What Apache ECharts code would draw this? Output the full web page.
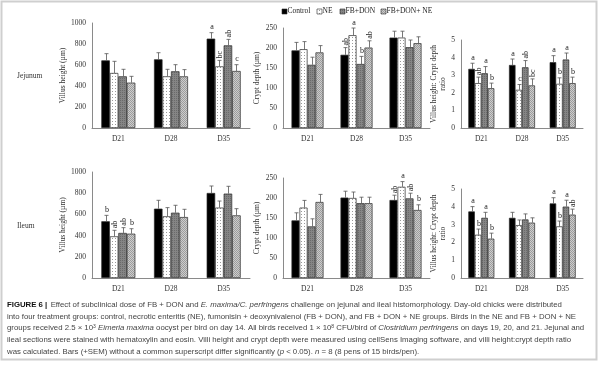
<!DOCTYPE html>
<html><head><meta charset="utf-8">
<script src="https://cdn.jsdelivr.net/npm/echarts@6/dist/echarts.min.js"></script>
<style>html,body{margin:0;padding:0;background:#fff}#c{width:600px;height:365px}</style>
</head><body><div id="c"></div>
<script>
// ---------- data ----------
const categories = ['D21', 'D28', 'D35'];
const groups = ['Control', 'NE', 'FB+DON', 'FB+DON+ NE'];

// each row: one treatment group, values for D21, D28, D35
const jejVH_mean = [[644, 654, 851], [524, 492, 587], [492, 540, 787], [432, 492, 543]];
const jejVH_sem  = [[64, 63, 57], [111, 67, 57], [67, 63, 57], [60, 64, 60]];
const jejVH_lab  = [['', '', 'a'], ['', '', 'bc'], ['', '', 'ab'], ['', '', 'c']];

const jejCD_mean = [[194, 183, 226], [197, 232, 226], [158, 160, 202], [189, 201, 212]];
const jejCD_sem  = [[20, 18, 16], [19, 18, 16], [19, 19, 18], [17, 17, 16]];
const jejCD_lab  = [['', 'ab', ''], ['', 'a', ''], ['', 'b', ''], ['', 'ab', '']];

const jejR_mean = [[3.36, 3.58, 3.74], [2.55, 2.17, 2.51], [3.11, 3.45, 3.89], [2.26, 2.42, 2.55]];
const jejR_sem  = [[0.32, 0.34, 0.37], [0.34, 0.30, 0.34], [0.38, 0.38, 0.37], [0.29, 0.37, 0.34]];
const jejR_lab  = [['a', 'a', 'a'], ['ab', 'c', 'b'], ['a', 'ab', 'a'], ['b', 'bc', 'b']];

const ileVH_mean = [[535, 654, 802], [393, 582, 664], [425, 616, 796], [418, 575, 591]];
const ileVH_sem  = [[56, 79, 66], [57, 82, 62], [50, 70, 69], [47, 73, 63]];
const ileVH_lab  = [['b', '', ''], ['ab', '', ''], ['ab', '', ''], ['b', '', '']];

const ileCD_mean = [[144, 201, 195], [176, 200, 228], [129, 187, 199], [190, 187, 170]];
const ileCD_sem  = [[19, 16, 12], [18, 15, 13], [19, 15, 13], [19, 15, 13]];
const ileCD_lab  = [['', '', 'ab'], ['', '', 'a'], ['', '', 'ab'], ['', '', 'b']];

const ileR_mean = [[3.74, 3.38, 4.19], [2.43, 2.97, 2.90], [3.38, 3.29, 4.01], [2.21, 3.11, 3.56]];
const ileR_sem  = [[0.27, 0.31, 0.32], [0.32, 0.29, 0.30], [0.31, 0.31, 0.36], [0.31, 0.27, 0.31]];
const ileR_lab  = [['a', '', 'a'], ['b', '', 'b'], ['a', '', 'a'], ['b', '', 'ab']];

const vhTicks = [0, 1000, 200];
const cdTicks = [0, 250, 50];
const rTicks = [0, 5, 1];

// ---------- styles ----------
const SERIF = '"Liberation Serif", "DejaVu Serif", serif';
const SANS = '"Liberation Sans", "DejaVu Sans", sans-serif';

function pattern(size, bg, fg, pts) {
  const c = document.createElement('canvas');
  c.width = c.height = size;
  const x = c.getContext('2d');
  x.fillStyle = bg; x.fillRect(0, 0, size, size);
  x.fillStyle = fg;
  pts.forEach(p => x.fillRect(p[0], p[1], 1, 1));
  return { image: c, repeat: 'repeat' };
}
const fills = [
  '#000000',
  pattern(3, '#ffffff', '#9a9a9a', [[1, 1]]),
  pattern(2, '#858585', '#6a6a6a', [[0, 0]]),
  pattern(2, '#cdcdcd', '#9c9c9c', [[0, 0], [1, 1]])
];

const panels = [
  { mean: jejVH_mean, sem: jejVH_sem, lab: jejVH_lab, t: vhTicks, name: 'Villus height (µm)', gap: 22,
    grid: { left: 92, top: 23, width: 158, height: 105 }, bw: 8.5 },
  { mean: jejCD_mean, sem: jejCD_sem, lab: jejCD_lab, t: cdTicks, name: 'Crypt depth (µm)', gap: 18,
    grid: { left: 283, top: 28, width: 147, height: 100 }, bw: 8 },
  { mean: jejR_mean, sem: jejR_sem, lab: jejR_lab, t: rTicks, name: 'Villus height: Crypt depth\nratio', gap: 11,
    grid: { left: 461, top: 40, width: 122, height: 88 }, bw: 6.5 },
  { mean: ileVH_mean, sem: ileVH_sem, lab: ileVH_lab, t: vhTicks, name: 'Villus height (µm)', gap: 22,
    grid: { left: 92, top: 172, width: 158, height: 106 }, bw: 8.5 },
  { mean: ileCD_mean, sem: ileCD_sem, lab: ileCD_lab, t: cdTicks, name: 'Crypt depth (µm)', gap: 18,
    grid: { left: 283, top: 178, width: 147, height: 100 }, bw: 8 },
  { mean: ileR_mean, sem: ileR_sem, lab: ileR_lab, t: rTicks, name: 'Villus height: Crypt depth\nratio', gap: 11,
    grid: { left: 461, top: 189, width: 122, height: 89 }, bw: 6.5 }
];

const grids = [], xAxes = [], yAxes = [], series = [];
panels.forEach((p, pi) => {
  grids.push(Object.assign({ containLabel: false }, p.grid));
  xAxes.push({
    type: 'category', gridIndex: pi, data: categories,
    axisTick: { show: false },
    axisLine: { lineStyle: { color: '#8a8a8a', width: 1 } },
    axisLabel: { fontFamily: SERIF, fontSize: 7.5, color: '#333', margin: 7 }
  });
  yAxes.push({
    type: 'value', gridIndex: pi, min: p.t[0], max: p.t[1], interval: p.t[2],
    axisLine: { show: true, lineStyle: { color: '#8a8a8a', width: 1 } },
    axisTick: { show: false }, splitLine: { show: false },
    axisLabel: { fontFamily: SERIF, fontSize: 7.5, color: '#333', margin: 6, formatter: v => String(v) },
    name: p.name, nameLocation: 'middle', nameGap: p.gap, nameRotate: 90,
    nameTextStyle: { fontFamily: SERIF, fontSize: 7.5, color: '#333', lineHeight: 9 }
  });
  groups.forEach((g, gi) => {
    series.push({
      type: 'bar', name: g, xAxisIndex: pi, yAxisIndex: pi, data: p.mean[gi],
      barWidth: p.bw, barGap: '0%', silent: true,
      itemStyle: { color: fills[gi], borderColor: '#2a2a2a', borderWidth: 0.7 }
    });
  });
  const ed = [];
  groups.forEach((g, gi) => categories.forEach((c, di) => ed.push([di, p.mean[gi][di], p.sem[gi][di], gi])));
  series.push({
    type: 'custom', xAxisIndex: pi, yAxisIndex: pi, data: ed, silent: true, z: 5,
    encode: { x: 0, y: 1 },
    renderItem: (params, api) => {
      const di = api.value(0), m = api.value(1), s = api.value(2), gi = api.value(3);
      const b = api.coord([di, m]);
      const t = api.coord([di, m + s]);
      const x = Math.round(b[0] + (gi - 1.5) * p.bw) + 0.5;
      const ch = [
        { type: 'line', shape: { x1: x, y1: b[1], x2: x, y2: t[1] }, style: { stroke: '#555', lineWidth: 0.8 } },
        { type: 'line', shape: { x1: x - 2, y1: t[1], x2: x + 2, y2: t[1] }, style: { stroke: '#555', lineWidth: 0.8 } }
      ];
      const L = p.lab[gi][di];
      if (L) {
        if (L.length > 1) {
          ch.push({ type: 'text', x: x + 0.5, y: t[1] - 2, rotation: Math.PI / 2,
            style: { text: L, font: '8px ' + SERIF, fill: '#222', align: 'left', verticalAlign: 'middle' } });
        } else {
          ch.push({ type: 'text', x: x + 0.5, y: t[1] - 1.5,
            style: { text: L, font: '8px ' + SERIF, fill: '#222', align: 'center', verticalAlign: 'bottom' } });
        }
      }
      return { type: 'group', children: ch };
    }
  });
});

// legend (drawn with graphic so spacing matches the figure)
const legendX = [282, 317, 340, 381];
const graphics = [];
groups.forEach((g, gi) => {
  graphics.push({ type: 'rect', shape: { x: legendX[gi], y: 9, width: 5, height: 5 },
    style: { fill: fills[gi], stroke: '#2a2a2a', lineWidth: 0.6 } });
  graphics.push({ type: 'text', x: legendX[gi] + 5.5, y: 11.5,
    style: { text: g, font: '7.5px ' + SERIF, fill: '#222', verticalAlign: 'middle' } });
});
graphics.push({ type: 'text', x: 17, y: 76, style: { text: 'Jejunum', font: '7.5px ' + SERIF, fill: '#333', verticalAlign: 'middle' } });
graphics.push({ type: 'text', x: 17, y: 226, style: { text: 'Ileum', font: '7.5px ' + SERIF, fill: '#333', verticalAlign: 'middle' } });

// caption
const captionLines = [
  '{b|FIGURE 6 |} {n|Effect of subclinical dose of FB + DON and }{i|E. maxima/C. perfringens}{n| challenge on jejunal and ileal histomorphology. Day-old chicks were distributed}',
  '{n|into four treatment groups: control, necrotic enteritis (NE), fumonisin + deoxynivalenol (FB + DON), and FB + DON + NE groups. Birds in the NE and FB + DON + NE}',
  '{n|groups received 2.5 × 10}{s|3}{n| }{i|Eimeria maxima}{n| oocyst per bird on day 14. All birds received 1 × 10}{s|8}{n| CFU/bird of }{i|Clostridium perfringens}{n| on days 19, 20, and 21. Jejunal and}',
  '{n|ileal sections were stained with hematoxylin and eosin. Villi height and crypt depth were measured using cellSens Imaging software, and villi height:crypt depth ratio}',
  '{n|was calculated. Bars (+SEM) without a common superscript differ significantly (}{i|p}{n| < 0.05). }{i|n}{n| = 8 (8 pens of 15 birds/pen).}'
];
const capFont = 7.8;
captionLines.forEach((ln, i) => {
  graphics.push({
    type: 'text', x: 7, y: 305 + i * 11.6,
    style: {
      text: ln, verticalAlign: 'middle', fill: '#3a3a3a',
      rich: {
        b: { fontFamily: SANS, fontSize: capFont, fontWeight: 'bold', fill: '#111' },
        n: { fontFamily: SANS, fontSize: capFont, fill: '#444' },
        i: { fontFamily: SANS, fontSize: capFont, fontStyle: 'italic', fill: '#444' },
        s: { fontFamily: SANS, fontSize: 5, fill: '#444', verticalAlign: 'top' }
      }
    }
  });
});
graphics.push({ type: 'rect', shape: { x: 1.5, y: 1.5, width: 595, height: 358 },
  style: { fill: 'none', stroke: '#cfcfcf', lineWidth: 2 }, z: 100 });

const chart = echarts.init(document.getElementById('c'), null, { renderer: 'canvas' });
chart.setOption({
  animation: false,
  backgroundColor: '#fff',
  grid: grids, xAxis: xAxes, yAxis: yAxes, series: series,
  graphic: graphics
});
</script></body></html>
